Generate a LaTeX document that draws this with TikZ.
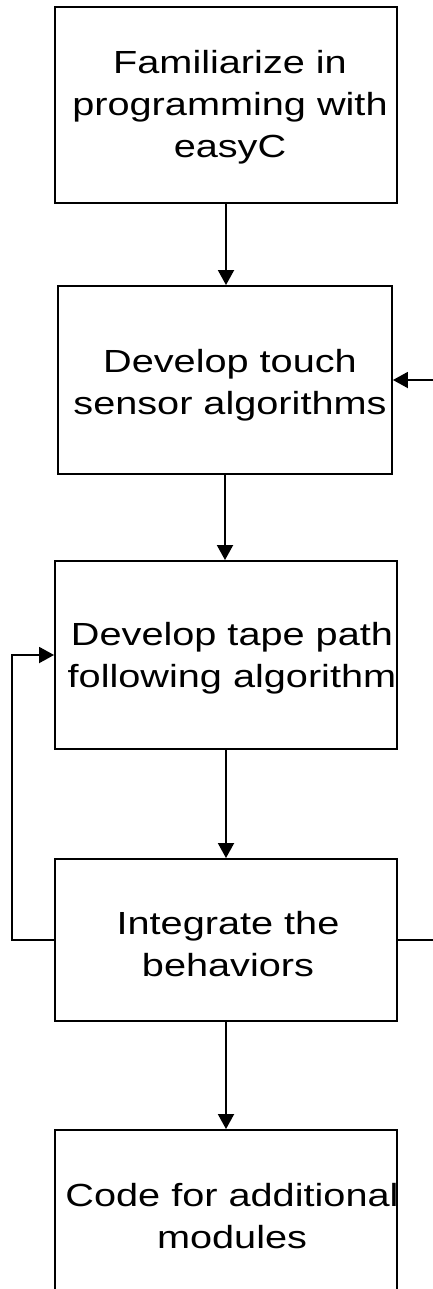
\documentclass[tikz,border=0pt]{standalone}
\usepackage{fontspec}
\setmainfont{Liberation Sans}[FakeStretch=1.24]
\usetikzlibrary{arrows.meta}
\tikzset{
  box/.style={draw=black, line width=1.9pt, rectangle, inner sep=0pt},
  txt/.style={align=center, inner sep=0pt, font=\fontsize{32}{42}\selectfont},
  arr/.style={draw=black, line width=1.9pt, -{Triangle[length=15pt,width=16pt]}},
  ln/.style={draw=black, line width=1.9pt}
}
\begin{document}
\begin{tikzpicture}[x=1pt,y=-1pt]
\useasboundingbox (0,0) rectangle (433,1289);
\clip (0,0) rectangle (433,1289);
\fill[white] (0,0) rectangle (433,1289);
\node[box, minimum width=342pt, minimum height=196pt] (b1) at (226,105) {};
\node[box, minimum width=334pt, minimum height=188pt] (b2) at (225,380) {};
\node[box, minimum width=342pt, minimum height=188pt] (b3) at (226,655) {};
\node[box, minimum width=342pt, minimum height=162pt] (b4) at (226,940) {};
\node[box, minimum width=342pt, minimum height=162pt] (b5) at (226,1211) {};
\node[txt] (t1) at ([xshift=4pt,yshift=-2pt]b1.center) {Familiarize in\\programming with\\easyC};
\node[txt] (t2) at ([xshift=5pt,yshift=-5pt]b2.center) {Develop touch\\sensor algorithms};
\node[txt] (t3) at ([xshift=6pt,yshift=-3pt]b3.center) {Develop tape path\\following algorithm};
\node[txt] (t4) at ([xshift=2pt,yshift=-4pt]b4.center) {Integrate the\\behaviors};
\node[txt] (t5) at ([xshift=6pt,yshift=-5pt]b5.center) {Code for additional\\modules};
\draw[arr] (b1.south) -- (b1.south |- b2.north);
\draw[arr] (b2.south) -- (b2.south |- b3.north);
\draw[arr] (b3.south) -- (b3.south |- b4.north);
\draw[arr] (b4.south) -- (b4.south |- b5.north);
\draw[arr] (b4.west) -- ++(-42,0) |- (b3.west);
\draw[arr] (b4.east) -- ++(50,0) |- (b2.east);
\end{tikzpicture}
\end{document}
